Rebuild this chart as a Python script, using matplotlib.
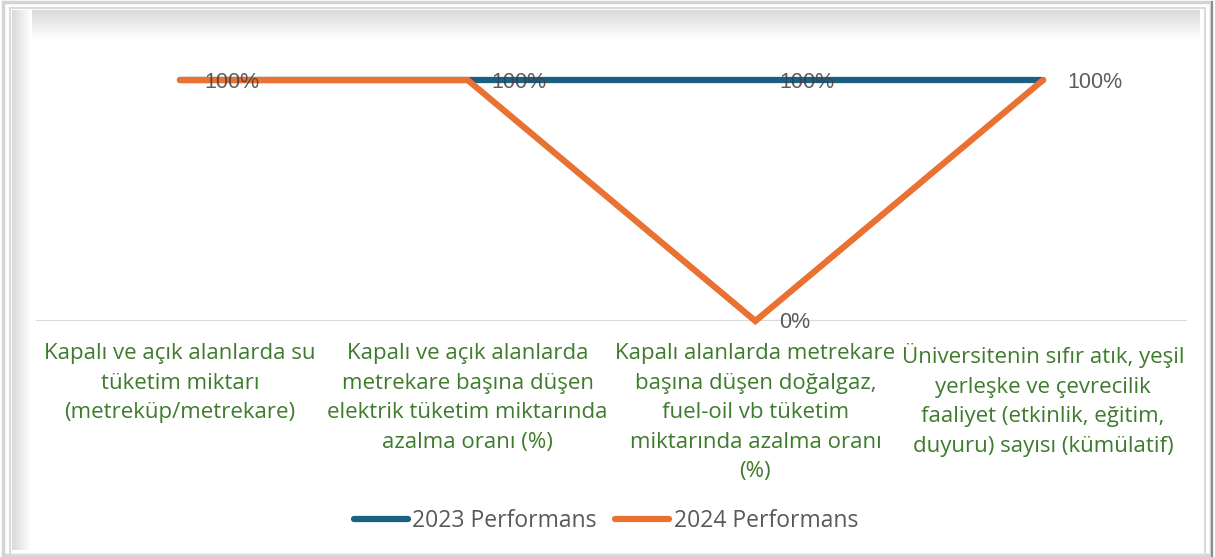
import matplotlib
matplotlib.use("Agg")
import matplotlib.pyplot as plt
import numpy as np
from matplotlib.patches import Rectangle
from matplotlib.lines import Line2D

categories = [
    "Kapalı ve açık alanlarda su\ntüketim miktarı\n(metreküp/metrekare)",
    "Kapalı ve açık alanlarda\nmetrekare başına düşen\nelektrik tüketim miktarında\nazalma oranı (%)",
    "Kapalı alanlarda metrekare\nbaşına düşen doğalgaz,\nfuel-oil vb tüketim\nmiktarında azalma oranı\n(%)",
    "Üniversitenin sıfır atık, yeşil\nyerleşke ve çevrecilik\nfaaliyet (etkinlik, eğitim,\nduyuru) sayısı (kümülatif)",
]
perf_2023 = [1.0, 1.0, 1.0, 1.0]
perf_2024 = [1.0, 1.0, 0.0, 1.0]
series_names = ["2023 Performans", "2024 Performans"]

blue = "#1B5F82"
orange = "#E97132"
green = "#3E7B2C"
label_grey = "#404040"

W, H = 1215, 557
fig = plt.figure(figsize=(W / 100, H / 100), dpi=100)

# background frame with soft shading
bg = fig.add_axes([0, 0, 1, 1])
top_grad = np.linspace(0.85, 1.0, 30).reshape(-1, 1)
bg.imshow(top_grad, extent=(12, 1200, 40, 10), origin="upper", cmap="gray", vmin=0, vmax=1,
          aspect="auto", zorder=1)
left_grad = np.linspace(0.85, 1.0, 20).reshape(1, -1)
bg.imshow(left_grad, extent=(12, 32, 550, 10), origin="upper", cmap="gray", vmin=0, vmax=1,
          aspect="auto", zorder=1)
bg.set_xlim(0, W)
bg.set_ylim(H, 0)
bg.axis("off")
bg.add_patch(Rectangle((3, 2), 1208, 553, fill=False, ec="#D4D4D4", lw=2.5, zorder=2))
bg.add_patch(Rectangle((10, 8), 1195, 547, fill=False, ec="#DADADA", lw=1.5, zorder=2))
bg.plot([1212, 1212], [2, 556], color="#8C8C8C", lw=1.5, zorder=3)

ax = fig.add_axes([36 / W, 1 - 321 / H, (1187 - 36) / W, (321 - 80) / H])
ax.patch.set_alpha(0)
x = np.arange(len(categories))
ax.set_xlim(-0.5, len(categories) - 0.5)
ax.set_ylim(0, 1)
ax.axhline(0, color="#D9D9D9", lw=1.5, zorder=1)

ax.plot(x, perf_2023, color=blue, lw=4.5, solid_capstyle="round", clip_on=False, zorder=3)
ax.plot(x, perf_2024, color=orange, lw=4.5, solid_capstyle="round", solid_joinstyle="miter",
        clip_on=False, zorder=4)

# data labels (right of points)
for i in range(len(categories)):
    if perf_2024[i] != perf_2023[i]:
        ax.annotate(f"{perf_2024[i]:.0%}", (x[i], perf_2024[i]), xytext=(24, -2),
                    textcoords="offset pixels", va="center", ha="left",
                    fontsize=15.5, color="#595959", family="Liberation Sans", zorder=5)
    val = perf_2024[i] if i == 0 else perf_2023[i]
    ax.annotate(f"{val:.0%}", (x[i], val), xytext=(24, -2),
                textcoords="offset pixels", va="center", ha="left",
                fontsize=15.5, color=label_grey, alpha=0.85, family="Liberation Sans", zorder=5)

ax.set_xticks(x)
ax.set_xticklabels(categories, fontsize=16, color=green, family="Open Sans", linespacing=1.53)
ax.tick_params(axis="x", length=0, pad=16)
ax.set_yticks([])
for s in ax.spines.values():
    s.set_visible(False)

handles = [Line2D([0], [0], color=blue, lw=4.5, solid_capstyle="round"),
           Line2D([0], [0], color=orange, lw=4.5, solid_capstyle="round")]
fig.legend(handles, series_names, loc="center", bbox_to_anchor=(606 / W, 1 - 521 / H), ncol=2,
           frameon=False, handlelength=2.35, handletextpad=0.2, columnspacing=0.8,
           prop={"family": "Open Sans", "size": 16.5}, labelcolor="#595959")

fig.savefig("out.png", dpi=100)
